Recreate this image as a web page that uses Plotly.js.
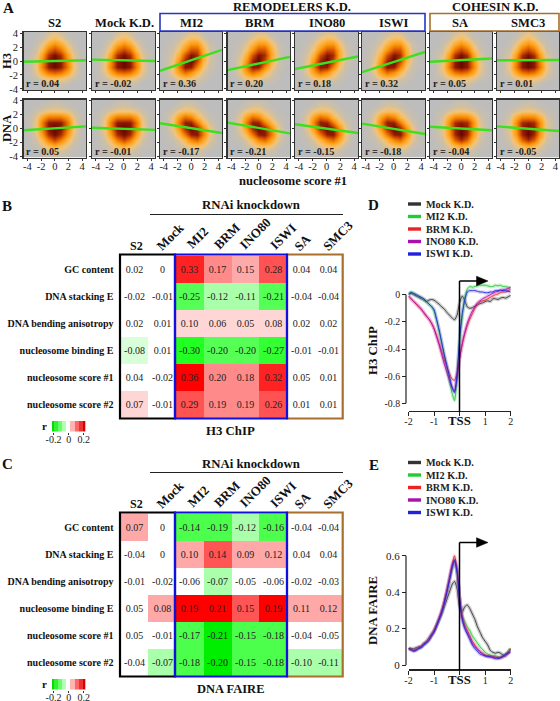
<!DOCTYPE html>
<html><head><meta charset="utf-8">
<script src="https://cdn.plot.ly/plotly-3.0.1.min.js"></script>
<style>html,body{margin:0;padding:0;background:#fff}#chart{width:560px;height:701px}</style>
</head><body><div id="chart"></div>
<script>
// ---------- Panel A data ----------
const panelNames = ['S2','Mock K.D.','MI2','BRM','INO80','ISWI','SA','SMC3'];
const h3R  = [0.04,-0.02,0.36,0.20,0.18,0.32,0.05,0.01];
const dnaR = [0.05,-0.01,-0.17,-0.21,-0.15,-0.18,-0.04,-0.05];
const h3LineLeft   = [-0.1,0.2,-1.4,-1.3,-1.15,-1.6,-0.1,0.1];
const h3LineRight  = [0.1,0.0,1.6,0.6,0.65,1.3,0.35,0.15];
const dnaLineLeft  = [-0.25,0.1,0.75,0.85,0.6,0.7,0.25,0.3];
const dnaLineRight = [0.3,-0.2,-0.65,-0.7,-0.65,-0.8,-0.25,-0.35];
const densX = [-4.5,-3.6,-2.7,-1.8,-0.9,0,0.9,1.8,2.7,3.6,4.5];
const densY = [4,3.2,2.4,1.6,0.8,0,-0.8,-1.6,-2.4,-3.2,-4];
const densH3Flat = [
 [0,0,0,0.1,0.4,0.7,0.4,0.1,0,0,0],
 [0,0,0.1,0.3,1,1.7,1,0.3,0.1,0,0],
 [0,0,0.2,0.8,2.6,3.9,2.6,0.8,0.2,0,0],
 [0,0.1,0.4,1.8,5.2,7,5.2,1.8,0.4,0.1,0],
 [0,0.2,0.7,3.2,7.8,9.4,7.8,3.2,0.7,0.2,0],
 [0,0.2,0.9,4.2,8.8,10,8.8,4.2,0.9,0.2,0],
 [0,0.2,1.1,4.8,8.8,9.8,8.8,4.8,1.1,0.2,0],
 [0,0.2,0.8,3,5.4,6.2,5.4,3,0.8,0.2,0],
 [0,0.1,0.3,0.8,1.3,1.6,1.3,0.8,0.3,0.1,0],
 [0,0,0,0.2,0.4,0.5,0.4,0.2,0,0,0],
 [0,0,0,0,0.1,0.1,0.1,0,0,0,0]];
const densH3Tilt = [
 [0,0,0,0.1,0.3,0.6,0.5,0.1,0,0,0],
 [0,0,0.1,0.3,0.9,1.6,1.5,0.5,0.1,0,0],
 [0,0.1,0.2,0.7,2,3.6,3.6,1.4,0.3,0.1,0],
 [0,0.1,0.4,1.3,3.8,6.6,6.4,2.4,0.5,0.1,0],
 [0,0.2,0.6,2.4,6.4,9.2,8,2.8,0.6,0.1,0],
 [0,0.2,0.9,3.8,8.4,10,7,2.2,0.5,0.1,0],
 [0,0.2,1.3,4.8,9,8.6,4.4,1.2,0.3,0.1,0],
 [0,0.2,1,3.4,5.6,4.2,1.9,0.6,0.2,0,0],
 [0,0.1,0.4,1.1,1.6,1.2,0.6,0.3,0.1,0,0],
 [0,0,0.1,0.3,0.4,0.3,0.2,0.1,0,0,0],
 [0,0,0,0.1,0.1,0.1,0,0,0,0,0]];
const densDnaFlat = [
 [0,0,0,0,0.1,0.2,0.1,0,0,0,0],
 [0,0,0.1,0.2,0.4,0.5,0.4,0.2,0.1,0,0],
 [0,0.1,0.3,0.7,1.1,1.2,1.1,0.8,0.3,0.1,0],
 [0,0.2,0.8,3.2,5.2,5.2,5.2,3.4,0.8,0.2,0],
 [0,0.2,1.1,5,8.8,9,8.8,5.2,1.1,0.2,0],
 [0,0.2,1.1,4.8,9.2,10,9.2,4.8,1.1,0.2,0],
 [0,0.2,0.8,3.6,8,9.6,8,3.6,0.8,0.2,0],
 [0,0.1,0.5,1.8,5,7.2,5,1.8,0.5,0.1,0],
 [0,0.1,0.2,0.7,1.7,2.8,1.7,0.7,0.2,0.1,0],
 [0,0,0.1,0.3,0.6,0.9,0.6,0.3,0.1,0,0],
 [0,0,0,0.1,0.2,0.3,0.2,0.1,0,0,0]];
const densDnaTilt = [
 [0,0,0,0.1,0.2,0.2,0.1,0,0,0,0],
 [0,0,0.1,0.3,0.6,0.6,0.3,0.1,0,0,0],
 [0,0.1,0.4,1.1,1.6,1.4,0.8,0.3,0.1,0,0],
 [0,0.2,0.9,3.4,5.6,4.6,2,0.8,0.2,0.1,0],
 [0,0.2,1.1,4.8,8.8,8.4,4.8,1.8,0.5,0.1,0],
 [0,0.2,0.9,3.6,8,10,8.6,4.2,1,0.2,0],
 [0,0.1,0.5,1.8,5,8.6,9,4.8,1.1,0.2,0],
 [0,0.1,0.2,0.7,2,4.6,5.8,3,0.8,0.2,0],
 [0,0,0.1,0.3,0.7,1.4,1.8,1,0.3,0.1,0],
 [0,0,0,0.1,0.2,0.5,0.6,0.3,0.1,0,0],
 [0,0,0,0,0.1,0.2,0.2,0.1,0,0,0]];
const densDnaCohesin = [
 [0,0,0,0,0.1,0.2,0.1,0,0,0,0],
 [0,0,0.1,0.2,0.4,0.5,0.4,0.2,0.1,0,0],
 [0,0.1,0.2,0.6,1,1.2,1,0.6,0.2,0.1,0],
 [0,0.1,0.6,2.6,4.6,4.8,4.4,2.4,0.6,0.1,0],
 [0,0.2,0.8,4,8,8.6,8,4,0.8,0.2,0],
 [0,0.2,0.8,3.8,8.6,9.8,8.6,3.8,0.8,0.2,0],
 [0,0.2,0.7,3.4,8.2,10,8.2,3.4,0.7,0.2,0],
 [0,0.1,0.5,2,6,8.2,6,2,0.5,0.1,0],
 [0,0.1,0.2,0.8,2,3,2,0.8,0.2,0.1,0],
 [0,0,0.1,0.3,0.6,0.9,0.6,0.3,0.1,0,0],
 [0,0,0,0.1,0.2,0.3,0.2,0.1,0,0,0]];
const h3Dens  = [densH3Flat,densH3Flat,densH3Tilt,densH3Tilt,densH3Tilt,densH3Tilt,densH3Flat,densH3Flat];
const dnaDens = [densDnaFlat,densDnaFlat,densDnaTilt,densDnaTilt,densDnaTilt,densDnaTilt,densDnaCohesin,densDnaCohesin];

// ---------- Panels B, C data ----------
const heatCols = ['S2','Mock','MI2','BRM','INO80','ISWI','SA','SMC3'];
const heatRows = ['GC content','DNA stacking E','DNA bending anisotropy','nucleosome binding E','nucleosome score #1','nucleosome score #2'];
const chipValues = [
 [0.02,0,0.33,0.17,0.15,0.28,0.04,0.04],
 [-0.02,-0.01,-0.25,-0.12,-0.11,-0.21,-0.04,-0.04],
 [0.02,0.01,0.10,0.06,0.052,0.08,0.02,0.02],
 [-0.08,0.01,-0.30,-0.20,-0.20,-0.27,-0.01,-0.01],
 [0.04,-0.02,0.36,0.20,0.18,0.32,0.047,0.01],
 [0.07,-0.01,0.29,0.19,0.19,0.26,0.01,0.01]];
const faireValues = [
 [0.07,0,-0.14,-0.19,-0.12,-0.16,-0.04,-0.04],
 [-0.04,0,0.10,0.14,0.09,0.12,0.04,0.04],
 [-0.01,-0.02,-0.06,-0.07,-0.05,-0.06,-0.02,-0.03],
 [0.05,0.08,0.19,0.21,0.15,0.19,0.11,0.12],
 [0.05,-0.01,-0.17,-0.21,-0.15,-0.18,-0.04,-0.05],
 [-0.04,-0.07,-0.18,-0.20,-0.15,-0.18,-0.10,-0.11]];
const chipLevels = [[-0.4,'#22ff22'],[-0.285,'#33ff33'],[-0.26,'#55ff55'],[-0.16,'#aaffaa'],[-0.1,'#d8ffd8'],[-0.05,'#ffffff'],[0.05,'#ffd6d6'],[0.12,'#ffaaaa'],[0.16,'#ff8a8a'],[0.22,'#ff5252'],[0.30,'#ff2222'],[0.35,'#ff0000']];
const faireLevels = [[-0.4,'#00ee00'],[-0.195,'#4cff4c'],[-0.13,'#aaffaa'],[-0.065,'#ffffff'],[0.065,'#ffa8a8'],[0.13,'#ff5555'],[0.185,'#ff0000']];
const scaleBarX = [-0.22,-0.165,-0.11,-0.055,0,0.055,0.11,0.165,0.22];
const scaleBarTicks = [-0.2,0,0.2];
const scaleBarLabels = ['-0.2','0','0.2'];

// ---------- Panels D, E data ----------
const lineNames = ['Mock K.D.','MI2 K.D.','BRM K.D.','INO80 K.D.','ISWI K.D.'];
const lineColors = ['#333333','#22cc33','#ee2222','#aa11aa','#2222dd'];
const bandColors = ['rgba(60,60,60,0.25)','rgba(40,210,60,0.25)','rgba(240,50,50,0.22)','rgba(190,30,190,0.25)','rgba(50,50,230,0.22)'];
const tssX = [-2,-1.9,-1.8,-1.7,-1.6,-1.5,-1.4,-1.3,-1.2,-1.1,-1,-0.9,-0.8,-0.7,-0.6,-0.5,-0.4,-0.3,-0.2,-0.1,0,0.1,0.2,0.3,0.4,0.5,0.6,0.7,0.8,0.9,1,1.1,1.2,1.3,1.4,1.5,1.6,1.7,1.8,1.9,2];
const chipMock  = [0.01,0.01,0,-0.01,-0.02,-0.03,-0.04,-0.05,-0.04,-0.035,-0.04,-0.055,-0.07,-0.09,-0.105,-0.13,-0.15,-0.17,-0.185,-0.15,-0.06,-0.01,-0.04,-0.09,-0.1,-0.095,-0.085,-0.075,-0.065,-0.06,-0.05,-0.045,-0.05,-0.03,-0.03,-0.035,-0.025,-0.02,-0.025,-0.015,-0.005];
const chipMI2   = [0,0.02,0.01,0,-0.01,-0.02,-0.035,-0.05,-0.07,-0.09,-0.12,-0.19,-0.27,-0.36,-0.45,-0.54,-0.63,-0.72,-0.78,-0.62,-0.35,-0.17,-0.03,0.04,0.06,0.055,0.06,0.065,0.07,0.07,0.07,0.065,0.06,0.06,0.07,0.065,0.07,0.06,0.06,0.055,0.05];
const chipBRM   = [-0.01,-0.03,-0.05,-0.07,-0.09,-0.11,-0.135,-0.16,-0.18,-0.21,-0.25,-0.3,-0.36,-0.42,-0.48,-0.53,-0.58,-0.62,-0.63,-0.58,-0.47,-0.37,-0.29,-0.23,-0.18,-0.14,-0.1,-0.07,-0.05,-0.045,-0.04,-0.03,-0.02,-0.01,0,0.005,0.015,0.02,0.02,0.03,0.04];
const chipINO80 = [-0.01,-0.03,-0.05,-0.065,-0.085,-0.105,-0.13,-0.155,-0.18,-0.21,-0.25,-0.31,-0.37,-0.44,-0.51,-0.57,-0.63,-0.68,-0.71,-0.62,-0.47,-0.36,-0.28,-0.21,-0.16,-0.12,-0.09,-0.06,-0.045,-0.03,-0.02,-0.01,0,0.01,0.02,0.025,0.03,0.035,0.04,0.045,0.055];
const chipISWI  = [0,0.015,0.01,0,-0.01,-0.02,-0.03,-0.05,-0.07,-0.085,-0.11,-0.18,-0.26,-0.35,-0.44,-0.52,-0.6,-0.68,-0.72,-0.58,-0.32,-0.14,-0.04,0.02,0.03,0.03,0.03,0.025,0.02,0.02,0.015,0.015,0.02,0.02,0.03,0.03,0.035,0.03,0.03,0.025,0.02];
const faireMock  = [0.09,0.09,0.09,0.095,0.1,0.105,0.12,0.13,0.15,0.17,0.19,0.22,0.25,0.28,0.32,0.36,0.4,0.44,0.46,0.42,0.32,0.29,0.32,0.33,0.31,0.28,0.25,0.21,0.18,0.15,0.13,0.11,0.08,0.07,0.065,0.07,0.065,0.055,0.05,0.065,0.09];
const faireMI2   = [0.09,0.085,0.08,0.085,0.09,0.1,0.11,0.125,0.14,0.16,0.185,0.215,0.25,0.29,0.34,0.4,0.46,0.52,0.57,0.51,0.36,0.27,0.24,0.21,0.19,0.16,0.14,0.12,0.1,0.085,0.07,0.06,0.055,0.05,0.05,0.045,0.045,0.05,0.06,0.075,0.09];
const faireBRM   = [0.09,0.085,0.08,0.085,0.095,0.1,0.115,0.125,0.14,0.165,0.19,0.22,0.26,0.3,0.35,0.41,0.48,0.55,0.6,0.53,0.37,0.27,0.22,0.19,0.16,0.13,0.11,0.09,0.075,0.065,0.055,0.05,0.05,0.045,0.045,0.04,0.04,0.045,0.055,0.07,0.09];
const faireINO80 = [0.09,0.085,0.08,0.085,0.095,0.1,0.115,0.125,0.14,0.16,0.185,0.22,0.255,0.295,0.345,0.405,0.47,0.54,0.58,0.52,0.37,0.26,0.21,0.18,0.15,0.12,0.1,0.085,0.07,0.06,0.05,0.05,0.045,0.045,0.04,0.04,0.04,0.045,0.055,0.07,0.085];
const faireISWI  = [0.09,0.085,0.075,0.08,0.09,0.095,0.11,0.12,0.135,0.16,0.18,0.215,0.25,0.29,0.34,0.4,0.465,0.53,0.575,0.51,0.36,0.25,0.2,0.17,0.14,0.11,0.09,0.075,0.06,0.055,0.05,0.045,0.045,0.04,0.035,0.035,0.04,0.05,0.06,0.065,0.07];
const chipSeries = [chipMock,chipMI2,chipBRM,chipINO80,chipISWI];
const faireSeries = [faireMock,faireMI2,faireBRM,faireINO80,faireISWI];

// ---------- helpers ----------
const W=560,H=701,SERIF='"Liberation Serif","Times New Roman",serif';
const px=x=>x/W, py=y=>1-y/H;
const dom=(a,b)=>[a/W,b/W], domY=(t,b)=>[1-b/H,1-t/H];
const annotations=[],shapes=[],traces=[],layout={};
function T(x,y,text,o={}){annotations.push({xref:'paper',yref:'paper',x:px(x),y:py(y),text:o.plain?text:'<b>'+text+'</b>',showarrow:false,
  xanchor:o.anchor||'center',yanchor:'middle',textangle:o.angle||0,font:{family:SERIF,size:o.size||13,color:o.color||'#111'},borderpad:0,borderwidth:0});}
function L(x0,y0,x1,y1,color,w){shapes.push({type:'line',xref:'paper',yref:'paper',x0:px(x0),y0:py(y0),x1:px(x1),y1:py(y1),line:{color:color,width:w}});}
function R(x0,y0,x1,y1,color,w){shapes.push({type:'rect',xref:'paper',yref:'paper',x0:px(x0),y0:py(y0),x1:px(x1),y1:py(y1),line:{color:color,width:w},fillcolor:'rgba(0,0,0,0)'});}
const fmt=v=>v===0?'0':v.toFixed(2);
const fmtR=v=>'r = '+v.toFixed(2);
let axN=0;
function ids(){axN++;return {x:'x'+axN,y:'y'+axN,xk:'xaxis'+axN,yk:'yaxis'+axN};}

// ---------- Panel A ----------
const densScale=[[0,'#bdbdbd'],[0.04,'#cfc0a4'],[0.1,'#f0c47e'],[0.2,'#fdb446'],[0.36,'#fb9a0c'],[0.55,'#e66a00'],[0.72,'#bf3f00'],[0.88,'#8c1a00'],[1,'#640600']];
const colLeft=[23.5,92,160,227.5,295,362,430,497];
const colRight=[86,155,222,290,358,425,492,559];
const rowTop=[32,99.5], rowBot=[90,157.5];
const tickV=[-4,-2,0,2,4], tickT=['-4','-2','0','2','4'];
[[h3Dens,h3LineLeft,h3LineRight,h3R],[dnaDens,dnaLineLeft,dnaLineRight,dnaR]].forEach((set,r)=>{
  panelNames.forEach((name,c)=>{
    const a=ids();
    traces.push({type:'heatmap',x:densX,y:densY,z:set[0][c],xaxis:a.x,yaxis:a.y,zmin:0,zmax:10,zsmooth:'best',colorscale:densScale,showscale:false,hoverinfo:'skip'});
    traces.push({type:'scatter',mode:'lines',x:[-4.55,4.55],y:[set[1][c],set[2][c]],xaxis:a.x,yaxis:a.y,line:{color:'#3be01e',width:2.4},showlegend:false,hoverinfo:'skip'});
    const base={showgrid:false,zeroline:false,showline:true,mirror:true,linecolor:'#333',linewidth:1.4,ticks:'outside',ticklen:2,tickwidth:1,tickcolor:'#333',tickmode:'array',tickvals:tickV,ticktext:tickT,tickfont:{family:SERIF,size:10.5,color:'#222'}};
    layout[a.xk]=Object.assign({},base,{domain:dom(colLeft[c],colRight[c]),anchor:a.y,range:[-4.55,4.55],showticklabels:r===1,ticklabelstandoff:-4});
    layout[a.yk]=Object.assign({},base,{domain:domY(rowTop[r],rowBot[r]),anchor:a.x,range:[-4.15,4.15],showticklabels:c===0});
    T(colLeft[c]+2.5,r===0?84:151.5,fmtR(set[3][c]),{anchor:'left',size:10.2,color:'#222'});
  });
});
// column headings
const headX=[54,124,191,259,327,393,460,528];
panelNames.forEach((n,i)=>T(headX[i],22.5,n,{size:12.6}));
R(160,13.5,425,31,'#2a35c0',1.6);
R(430,13.5,559,31,'#a8702c',1.6);
T(292,6.5,'REMODELERS K.D.',{size:12.6});
T(495,6.5,'COHESIN K.D.',{size:12.6});
T(7,61,'H3',{angle:-90,size:12.6});
T(7,129,'DNA',{angle:-90,size:12.6});
T(293,180.5,'nucleosome score #1',{size:12.5});
T(8,8,'A',{size:15});

// ---------- Panels B, C ----------
function stepScale(levels){
  const lo=-0.4,hi=0.4,n=v=>(v-lo)/(hi-lo),out=[];
  levels.forEach((l,i)=>{const end=i<levels.length-1?levels[i+1][0]:hi;out.push([n(l[0]),l[1]]);out.push([n(end),l[1]]);});
  return out;
}
function heatPanel(values,levels,dy,title,letter,letterY,titleSize){
  const a=ids();
  traces.push({type:'heatmap',x:heatCols,y:heatRows,z:values,text:values.map(r=>r.map(fmt)),texttemplate:'%{text}',
    textfont:{family:SERIF,size:10,color:'#222'},xaxis:a.x,yaxis:a.y,zmin:-0.4,zmax:0.4,colorscale:stepScale(levels),showscale:false,hoverinfo:'skip',xgap:0,ygap:0});
  layout[a.xk]={domain:dom(120.5,342.7),anchor:a.y,type:'category',visible:false,range:[-0.5,7.5]};
  layout[a.yk]={domain:domY(255.5+dy,418+dy),anchor:a.x,type:'category',range:[5.5,-0.5],showgrid:false,zeroline:false,showline:false,
     ticks:'outside',ticklen:4,tickcolor:'rgba(0,0,0,0)',tickfont:{family:SERIF,size:10,color:'#111'},
     tickmode:'array',tickvals:heatRows,ticktext:heatRows.map(s=>'<b>'+s+'</b>')};
  R(120,254.5+dy,175,418.5+dy,'#000',2.2);
  R(287,254.5+dy,342.7,418.5+dy,'#a8702c',2.2);
  R(175,254.5+dy,287,418.5+dy,'#1010dd',2.2);
  const hx=[136,170.5,198,226.5,255,283,302.5,338],hy=[246,236.5,238,236.5,233,236.5,242.5,235.5];
  heatCols.forEach((c,i)=>T(hx[i],hy[i]+dy,c,{size:i===0?12:13,angle:i===0?0:-45}));
  T(251,205.5+dy,'RNAi knockdown',{size:12.8});
  L(150,214.5+dy,343,214.5+dy,'#222',1.2);
  T(230,431+dy,title,{size:titleSize});
  T(7,letterY,letter,{size:15});
  T(44,425.5+dy,'r',{size:11});
  const b=ids();
  traces.push({type:'heatmap',x:scaleBarX,y:[0],z:[scaleBarX],xaxis:b.x,yaxis:b.y,zmin:-0.22,zmax:0.22,
    colorscale:[[0,'#00e000'],[0.25,'#66ff66'],[0.5,'#ffffff'],[0.75,'#ff6666'],[1,'#d80000']],showscale:false,hoverinfo:'skip'});
  layout[b.xk]={domain:dom(52,85.3),anchor:b.y,range:[-0.22,0.22],showgrid:false,zeroline:false,showline:false,ticks:'outside',ticklen:2,tickcolor:'#333',ticklabelstandoff:-4,
    tickmode:'array',tickvals:scaleBarTicks,ticktext:scaleBarLabels,tickfont:{family:SERIF,size:10,color:'#222'}};
  layout[b.yk]={domain:domY(421+dy,431.5+dy),anchor:b.x,visible:false,range:[-0.5,0.5]};
}
heatPanel(chipValues,chipLevels,0,'H3 ChIP','B',206,12.8);
heatPanel(faireValues,faireLevels,258,'DNA FAIRE','C',464,12.5);

// ---------- Panels D, E ----------
function linePanel(series,o){
  const a=ids();
  series.forEach((s,i)=>{
    traces.push({type:'scatter',mode:'lines',x:tssX,y:s,xaxis:a.x,yaxis:a.y,line:{color:bandColors[i],width:3.6,shape:'spline',smoothing:0.6},showlegend:false,hoverinfo:'skip'});
    traces.push({type:'scatter',mode:'lines',x:tssX,y:s,xaxis:a.x,yaxis:a.y,line:{color:lineColors[i],width:0.9,shape:'spline',smoothing:0.6},showlegend:false,hoverinfo:'skip'});
  });
  layout[a.xk]={domain:dom(408.5,510.7),anchor:a.y,range:[-2,2],showgrid:false,zeroline:false,showline:true,linecolor:'#222',linewidth:1.2,ticklabelstandoff:-3,
    ticks:'outside',ticklen:4,tickcolor:'#222',tickmode:'array',tickvals:[-2,-1,0,1,2],ticktext:['-2','-1','','1','2'],tickfont:{family:SERIF,size:10,color:'#222'}};
  layout[a.yk]={domain:domY(o.top,o.bottom),anchor:'free',position:px(406),range:o.range,showgrid:false,zeroline:false,showline:false,
    ticks:'outside',ticklen:4,tickcolor:'#222',tickmode:'array',tickvals:o.ticks,ticktext:o.tickText,tickfont:{family:SERIF,size:o.tickSize,color:'#222'}};
  shapes.push({type:'line',xref:'paper',yref:a.y,x0:px(406),x1:px(406),y0:o.ticks[0],y1:o.ticks[o.ticks.length-1],line:{color:'#222',width:1.2}});
  // TSS arrow
  L(459.5,o.bottom+1,459.5,o.arrowY,'#000',1.5);
  L(459.5,o.arrowY,478,o.arrowY,'#000',1.5);
  shapes.push({type:'path',xref:'paper',yref:'paper',path:`M ${px(476.5)} ${py(o.arrowY-4.8)} L ${px(488)} ${py(o.arrowY)} L ${px(476.5)} ${py(o.arrowY+4.8)} Z`,fillcolor:'#000',line:{color:'#000',width:0.5}});
  T(459.5,o.bottom+10.5,'TSS',{size:12.8});
  T(373,o.labelY,o.title,{angle:-90,size:12.8});
  T(373.5,o.letterY,o.letter,{size:15});
  lineNames.forEach((n,i)=>{
    const y=o.legendY+i*12.5;
    L(408,y,421,y,lineColors[i],3.4);
    T(426,y,n,{anchor:'left',size:10.2,color:'#222'});
  });
}
linePanel(chipSeries,{top:262,bottom:410.7,range:[-0.8545,0.241],ticks:[0,-0.2,-0.4,-0.6,-0.8],tickText:['0','-0.2','-0.4','-0.6','-0.8'],tickSize:9.8,arrowY:281,labelY:351,letterY:205,letter:'D',title:'H3 ChIP',legendY:204});
linePanel(faireSeries,{top:530,bottom:669.3,range:[-0.0236,0.7418],ticks:[0,0.2,0.4,0.6],tickText:['0','0.2','0.4','0.6'],tickSize:11,arrowY:542.5,labelY:611,letterY:465,letter:'E',title:'DNA FAIRE',legendY:462.5});

Object.assign(layout,{width:W,height:H,margin:{l:0,r:0,t:0,b:0},paper_bgcolor:'#fff',plot_bgcolor:'rgba(0,0,0,0)',showlegend:false,annotations:annotations,shapes:shapes});
Plotly.newPlot('chart',traces,layout,{staticPlot:true,displayModeBar:false});
</script></body></html>
